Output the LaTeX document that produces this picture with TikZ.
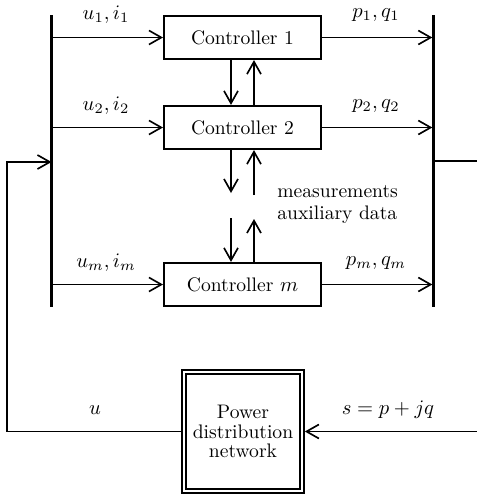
\documentclass[tikz,border=0pt]{standalone}
\usetikzlibrary{arrows.meta}

\begin{document}
\begin{tikzpicture}[
  x=0.485pt, y=-0.485pt,
  ctrl/.style={draw, line width=0.8pt, minimum width=76.3pt, minimum height=21.1pt,
               inner sep=0pt, font=\fontsize{9.5}{11}\selectfont},
  netbox/.style={draw, line width=0.75pt, double, double distance=1.3pt,
                 minimum width=57.2pt, minimum height=57.7pt, inner sep=0pt,
                 outer sep=1.4pt, align=center, font=\fontsize{9.5}{9.3}\selectfont},
  bus/.style={line width=1.5pt},
  flow/.style={line width=0.8pt, -{Straight Barb[length=6pt, width=6.8pt]}},
  lbl/.style={inner sep=0pt, font=\fontsize{10}{12}\selectfont}
]
\useasboundingbox (0,0) rectangle (477,494);
\clip (0,0) rectangle (477,494);

% controllers and the distribution network
\node[ctrl] (c1) at (242.5,37.5) {Controller 1};
\node[ctrl] (c2) at (242.5,127.5) {Controller 2};
\node[ctrl] (cm) at (242.5,284.5) {Controller {\fontsize{10}{12}\selectfont$m$}};
\node[netbox] (pdn) at (243,431.5) {Power\\distribution\\network};

% buses
\coordinate (lbtop) at (51.5,15);
\coordinate (lbbot) at (51.5,307);
\coordinate (rbtop) at (433.8,15);
\coordinate (rbbot) at (433.8,307);
\draw[bus] (lbtop) -- (lbbot);
\draw[bus] (rbtop) -- (rbbot);

% inputs from the left bus
\draw[flow] (c1.west -| lbtop) -- (c1.west);
\draw[flow] (c2.west -| lbtop) -- (c2.west);
\draw[flow] (cm.west -| lbtop) -- (cm.west);

% outputs to the right bus
\draw[flow, shorten >=0.7pt] (c1.east) -- (c1.east -| rbtop);
\draw[flow, shorten >=0.7pt] (c2.east) -- (c2.east -| rbtop);
\draw[flow, shorten >=0.7pt] (cm.east) -- (cm.east -| rbtop);

% signal labels
\node[lbl] (l1) at (106,15) {$u_1, i_1$};
\node[lbl] (l2) at (106,106) {$u_2, i_2$};
\node[lbl] (lm) at (106,263) {$u_m, i_m$};
\node[lbl] (r1) at (376,15) {$p_1, q_1$};
\node[lbl] (r2) at (376,106) {$p_2, q_2$};
\node[lbl] (rm) at (376,263) {$p_m, q_m$};

% exchange between neighbouring controllers
\coordinate (dnx) at (231,0);
\coordinate (upx) at (254,0);
\draw[flow] (c1.south -| dnx) -- (c2.north -| dnx);
\draw[flow] (c2.north -| upx) -- (c1.south -| upx);

\coordinate (dnA) at (231,193);
\coordinate (dnB) at (231,218);
\coordinate (upA) at (254,219);
\coordinate (upB) at (254,195);
\draw[flow] (c2.south -| dnx) -- (dnA);
\draw[flow] (dnB) -- (cm.north -| dnx);
\draw[flow] (cm.north -| upx) -- (upA);
\draw[flow] (upB) -- (c2.south -| upx);

\node[lbl, anchor=west, align=left, font=\fontsize{9.5}{10.7}\selectfont]
  (meas) at (277,204.5) {measurements\\auxiliary data};

% feedback through the network
\coordinate (fbl) at (7,162);
\coordinate (fbr) at (490,161);
\draw[flow] (pdn.west) -| (fbl) -- (fbl -| lbtop);
\draw[flow] (rbtop |- fbr) -- (fbr) |- (pdn.east);

\node[lbl] (lu) at (95,410) {$u$};
\node[lbl] (ls) at (388,410) {$s = p + jq$};
\end{tikzpicture}
\end{document}
